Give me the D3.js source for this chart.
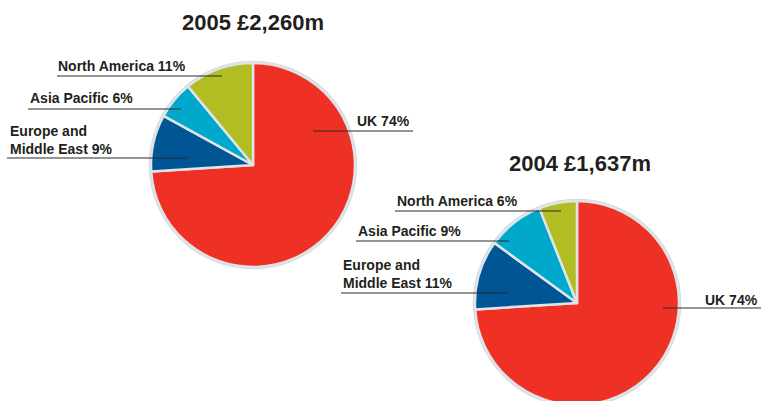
<!DOCTYPE html>
<html>
<head>
<meta charset="utf-8">
<script src="https://cdn.jsdelivr.net/npm/d3@7"></script>
<style>
  html, body { margin: 0; padding: 0; background: #fff; }
  svg { display: block; }
  text { font-family: "Liberation Sans", Arial, Helvetica, sans-serif; font-weight: bold; fill: #231f20; }
</style>
</head>
<body>
<svg id="chart" width="761" height="401"></svg>
<script>
// Turnover by region, two years
const regions = ["UK", "Europe and Middle East", "Asia Pacific", "North America"];
const years = ["2005", "2004"];
const totals = ["£2,260m", "£1,637m"];
const share2005 = [74, 9, 6, 11];
const share2004 = [74, 11, 9, 6];
const labelLines2005 = [["UK 74%"], ["Europe and", "Middle East 9%"], ["Asia Pacific 6%"], ["North America 11%"]];
const labelLines2004 = [["UK 74%"], ["Europe and", "Middle East 11%"], ["Asia Pacific 9%"], ["North America 6%"]];

const colors = d3.scaleOrdinal()
  .domain(regions)
  .range(["#ee3124", "#005595", "#00a8cb", "#b2bd23"]);

// Layout for each pie: centre, title position, and label placement
// (label offsets are relative to the pie centre: text start, first baseline, leader line y and x-extent)
const layouts = [
  {
    cx: 253, cy: 165, titleX: 253, titleY: 30,
    labels: [
      { tx: 104, ty: -39, ly: -34, x0: 60, x1: 160 },
      { tx: -243, ty: -29, ly: -7, x0: -246, x1: -66 },
      { tx: -223, ty: -62, ly: -56, x0: -225, x1: -72 },
      { tx: -195, ty: -94, ly: -89, x0: -196, x1: -31 }
    ]
  },
  {
    cx: 577, cy: 303, titleX: 580, titleY: 171,
    labels: [
      { tx: 128, ty: 2, ly: 5, x0: 86, x1: 184 },
      { tx: -234, ty: -33, ly: -10, x0: -236, x1: -70 },
      { tx: -219, ty: -67, ly: -62, x0: -221, x1: -68 },
      { tx: -180, ty: -97, ly: -92, x0: -182, x1: -16 }
    ]
  }
];

const datasets = [
  { year: years[0], total: totals[0], values: share2005, labels: labelLines2005 },
  { year: years[1], total: totals[1], values: share2004, labels: labelLines2004 }
];

const svg = d3.select("#chart");
const radius = 102;

const pie = d3.pie().sort(null).value(d => d.value);
const arc = d3.arc().innerRadius(0).outerRadius(radius);

datasets.forEach((ds, i) => {
  const lay = layouts[i];
  const rows = regions.map((r, j) => ({ region: r, value: ds.values[j], lines: ds.labels[j] }));
  const arcs = pie(rows);

  svg.append("text")
    .attr("x", lay.titleX)
    .attr("y", lay.titleY)
    .attr("text-anchor", "middle")
    .style("font-size", "22px")
    .text(`${ds.year} ${ds.total}`);

  const g = svg.append("g").attr("transform", `translate(${lay.cx},${lay.cy})`);

  // outer rim
  g.append("circle")
    .attr("r", radius + 0.5)
    .attr("fill", "none")
    .attr("stroke", "#d6dbe1")
    .attr("stroke-width", 3.5);

  g.selectAll("path.slice")
    .data(arcs)
    .join("path")
    .attr("class", "slice")
    .attr("d", arc)
    .attr("fill", d => colors(d.data.region))
    .attr("stroke", "#dfe4e9")
    .attr("stroke-width", 2.5)
    .attr("stroke-linejoin", "round");

  // labels with horizontal leader lines
  arcs.forEach((a, j) => {
    const L = lay.labels[j];
    g.append("line")
      .attr("x1", L.x0).attr("x2", L.x1)
      .attr("y1", L.ly).attr("y2", L.ly)
      .attr("stroke", "#2b2b2b")
      .attr("stroke-width", 1.2);
    const t = g.append("text")
      .attr("x", L.tx)
      .attr("y", L.ty)
      .style("font-size", "14px");
    a.data.lines.forEach((line, k) => {
      t.append("tspan")
        .attr("x", L.tx)
        .attr("dy", k === 0 ? 0 : 17.5)
        .text(line);
    });
  });
});
</script>
</body>
</html>
